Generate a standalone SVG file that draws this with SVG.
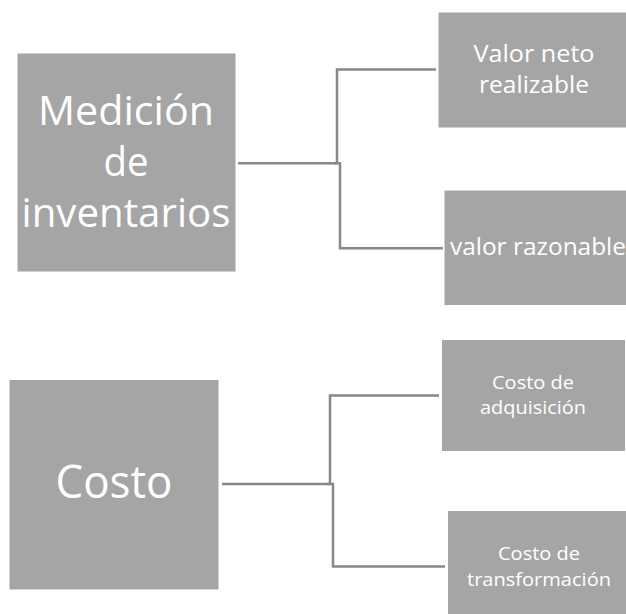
<svg xmlns="http://www.w3.org/2000/svg" width="626" height="614" viewBox="0 0 626 614">
<style>
.box{fill:#a5a5a5}
.t{fill:#ffffff;font-family:"Open Sans","Liberation Sans",sans-serif;text-anchor:middle}
.c{fill:none;stroke:#888888;stroke-width:2.5}
</style>
<rect width="626" height="614" fill="#ffffff"/>
<g id="connectors">
<polyline class="c" points="238,163.3 337,163.3"/>
<polyline class="c" points="436,69.5 337,69.5 337,163.3"/>
<polyline class="c" points="334,163.3 340,163.3 340,248.3 443,248.3"/>
<polyline class="c" points="222,484 330,484"/>
<polyline class="c" points="439,395.5 330,395.5 330,484"/>
<polyline class="c" points="327,484 333,484 333,566.5 445,566.5"/>
</g>
<g id="medicion">
<rect class="box" x="17.5" y="53.5" width="218" height="218"/>
<text class="t" font-size="41" x="126" y="125" textLength="176" lengthAdjust="spacingAndGlyphs">Medición</text>
<text class="t" font-size="41" x="126" y="176" textLength="45" lengthAdjust="spacingAndGlyphs">de</text>
<text class="t" font-size="41" x="126" y="227" textLength="209" lengthAdjust="spacingAndGlyphs">inventarios</text>
</g>
<g id="valor-neto">
<rect class="box" x="438.5" y="12.5" width="188" height="115"/>
<text class="t" font-size="24" x="534" y="62" textLength="121" lengthAdjust="spacingAndGlyphs">Valor neto</text>
<text class="t" font-size="24" x="534" y="93" textLength="110" lengthAdjust="spacingAndGlyphs">realizable</text>
</g>
<g id="valor-razonable">
<rect class="box" x="444.5" y="190.5" width="182" height="114.5"/>
<text class="t" font-size="23.5" x="538" y="255" textLength="176" lengthAdjust="spacingAndGlyphs">valor razonable</text>
</g>
<g id="costo">
<rect class="box" x="9.5" y="380" width="209" height="209.5"/>
<text class="t" font-size="46" x="114" y="498" textLength="117" lengthAdjust="spacingAndGlyphs">Costo</text>
</g>
<g id="costo-adquisicion">
<rect class="box" x="442" y="340" width="183" height="111"/>
<text class="t" font-size="19" x="533" y="389" textLength="82" lengthAdjust="spacingAndGlyphs">Costo de</text>
<text class="t" font-size="19" x="533" y="414" textLength="106" lengthAdjust="spacingAndGlyphs">adquisición</text>
</g>
<g id="costo-transformacion">
<rect class="box" x="448" y="511" width="178" height="103"/>
<text class="t" font-size="19" x="539" y="560" textLength="82" lengthAdjust="spacingAndGlyphs">Costo de</text>
<text class="t" font-size="19" x="539" y="586" textLength="144" lengthAdjust="spacingAndGlyphs">transformación</text>
</g>
</svg>
